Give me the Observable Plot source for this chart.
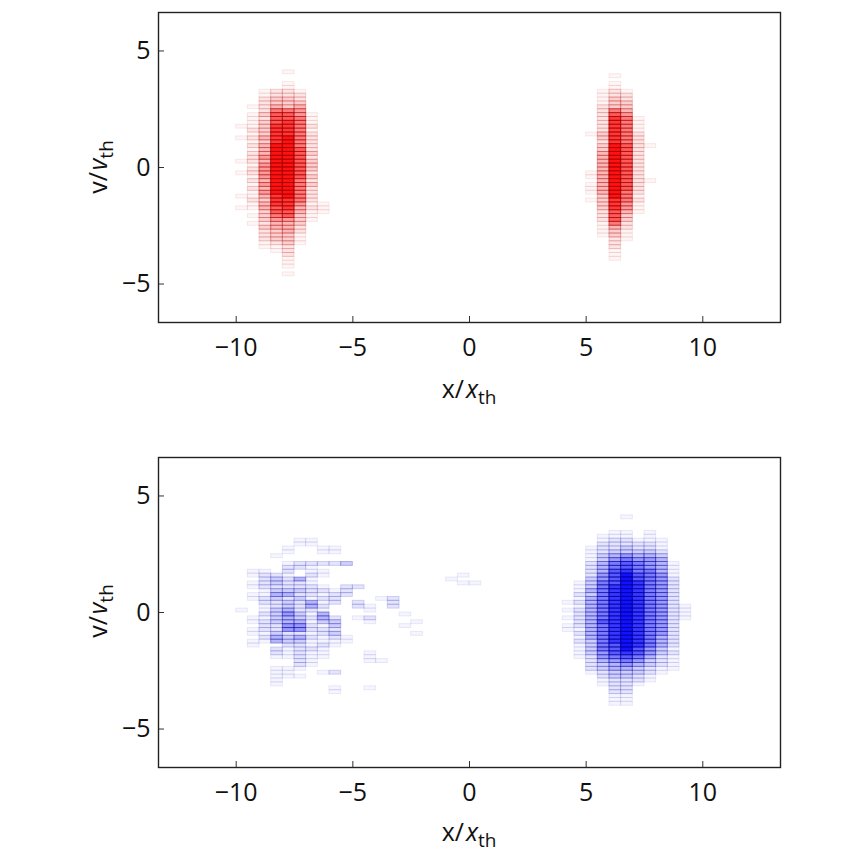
<!DOCTYPE html>
<html><head><meta charset="utf-8">
<script src="https://cdn.jsdelivr.net/npm/d3@7"></script>
<script src="https://cdn.jsdelivr.net/npm/@observablehq/plot@0.6"></script>
<style>
body{margin:0;background:#fff}
#c{width:862px;height:862px;overflow:hidden}
svg{display:block}
</style>
</head><body><div id="c"></div>
<script>
// axis ticks
const xTicks = [-10, -5, 0, 5, 10];
const vTicks = [-5, 0, 5];
const xDomain = [-13.33, 13.33];
const vDomain = [-6.65, 6.65];

// phase-space histogram bins: x bin width 0.5, v bin height 1/6,
// strings read top (v = 27/6) to bottom, one digit (0-9 relative count) per v-bin
const xBin = 0.5;
const vBin = 1 / 6;
const topRow = 27;

// top panel (red species)
const redX = [-10, -9.5, -9, -8.5, -8, -7.5, -7, -6.5, 5, 5.5, 6, 6.5, 7, 7.5];
const redCounts = [
  "00000 00000 00000 01001 00000 10010 00001 00100 00000 00000 00000",
  "00000 00000 01011 11212 12122 21221 21211 21101 01000 00000 00000",
  "00000 00112 22232 33334 34445 45555 45454 34433 32322 21100 00000",
  "00000 00223 34677 78888 89999 99999 99998 88776 54433 32110 00000",
  "00100 11223 33677 88889 99999 99999 99999 88877 54443 33222 11101",
  "00000 00122 34556 66666 66777 77777 66666 65443 33221 11000 00000",
  "00000 00000 00011 12122 22232 33323 23222 21211 10000 00000 00000",
  "00000 00000 00000 00000 00000 00000 00000 01110 00000 00000 00000",
  "00000 00000 00000 00010 00000 00011 01110 10000 00000 00000 00000",
  "00000 00111 12222 22233 23344 44444 44443 33322 21111 00000 00000",
  "00010 11223 33678 88888 89999 99999 99999 88877 76433 22211 10000",
  "00000 00122 33456 66666 67777 77777 77766 65543 32211 10000 00000",
  "00000 00000 00001 11122 22222 22222 22221 21110 00000 00000 00000",
  "00000 00000 00000 00000 01000 00000 10000 00000 00000 00000 00000"
];

// bottom panel (blue species)
const blueX = [-10, -9.5, -9, -8.5, -8, -7.5, -7, -6.5, -6, -5.5, -5, -4.5, -4, -3.5, -3, -2.5, -1, -0.5, 0,
               4, 4.5, 5, 5.5, 6, 6.5, 7, 7.5, 8, 8.5, 9];
const blueCounts = [
  "00000 00000 00000 00000 00000 01000 00000 00000 00000 00000 00000",
  "00000 00000 00000 01101 10110 00011 01101 10000 00000 00000 00000",
  "00000 00000 00000 01222 21122 11212 22121 00000 00000 00000 00000",
  "00000 00000 00100 00233 23432 23333 22344 02210 01111 10000 00000",
  "00000 00000 11001 22122 23423 34544 55233 21110 01110 00000 00000",
  "00000 00011 00002 20042 23232 22334 55243 22222 21010 00000 00000",
  "00000 00011 00002 11211 22214 42121 22121 12111 10000 00000 00000",
  "00000 00000 11002 01100 12121 21443 12211 21110 00100 00000 00000",
  "00000 00000 11002 00000 01222 00023 32321 10000 00200 01100 00000",
  "00000 00000 00003 00000 22200 00000 00011 00000 00000 00000 00000",
  "00000 00000 00000 00000 20002 20010 00000 00000 00000 00000 00000",
  "00000 00000 00000 00000 00000 11021 00000 00111 00000 01000 00000",
  "00000 00000 00000 00000 00010 00000 00000 00001 00000 00000 00000",
  "00000 00000 00000 00000 00022 20000 00000 00000 00000 00000 00000",
  "00000 00000 00000 00000 00000 00100 10000 00000 00000 00000 00000",
  "00000 00000 00000 00000 00000 00001 00100 00000 00000 00000 00000",
  "00000 00000 00000 00010 00000 00000 00000 00000 00000 00000 00000",
  "00000 00000 00000 00101 00000 00000 00000 00000 00000 00000 00000",
  "00000 00000 00000 00001 00000 00000 00000 00000 00000 00000 00000",
  "00000 00000 00000 00000 00001 01010 11000 00000 00000 00000 00000",
  "00000 00000 00000 00001 11212 12222 21212 11110 00000 00000 00000",
  "00000 00000 11112 22233 34344 44444 44443 33322 22100 00000 00000",
  "00000 00112 22334 44556 66666 66667 66666 66554 33221 10000 00000",
  "00000 01122 23456 67777 88888 88888 88888 77765 44332 22211 10000",
  "00100 01122 33567 78999 99999 99999 99999 99876 54332 22211 10000",
  "00000 00012 23456 66778 88888 88888 88888 87765 43322 10000 00000",
  "00000 01112 23455 56666 66666 66666 66666 65543 32211 00000 00000",
  "00000 00011 12344 44555 55555 55555 55544 43322 21100 00000 00000",
  "00000 00000 00001 11122 22222 22222 22222 21211 11000 00000 00000",
  "00000 00000 00000 00000 00000 11110 00000 00000 00000 00000 00000"
];

function toCells(xs, counts) {
  const cells = [];
  xs.forEach((x, j) => {
    const s = counts[j].replace(/ /g, "");
    for (let i = 0; i < s.length; i++) {
      const n = +s[i];
      if (n > 0) cells.push({x1: x, x2: x + xBin, v2: (topRow - i) * vBin, v1: (topRow - i - 1) * vBin, n});
    }
  });
  return cells;
}

const FONT = "'Open Sans', 'Noto Sans', sans-serif";

function panel(cells, fill, stroke, height, marginBottom) {
  return Plot.plot({
    width: 862,
    height,
    marginLeft: 158,
    marginRight: 82,
    marginTop: 12,
    marginBottom,
    style: {fontFamily: FONT, fontSize: "25px", color: "#111", background: "#fff"},
    x: {domain: xDomain, label: null},
    y: {domain: vDomain, label: null},
    opacity: {type: "identity"},
    marks: [
      Plot.rect(cells, {
        x1: "x1", x2: "x2", y1: "v1", y2: "v2",
        fill,
        fillOpacity: d => 0.93 * Math.pow(d.n / 9, 1.45),
        stroke,
        strokeOpacity: d => 0.03 + 0.82 * Math.pow(d.n / 9, 1.25),
        strokeWidth: 1
      }),
      Plot.axisX(xTicks, {tickSize: -6, tickPadding: 22, stroke: "#333", fill: "#111", fontSize: 25, label: null}),
      Plot.axisY(vTicks, {tickSize: -6, tickPadding: 14, stroke: "#333", fill: "#111", fontSize: 25, label: null}),
      Plot.frame({stroke: "#222", strokeWidth: 1.4})
    ]
  });
}

function addLabel(svg, x, y, rot, a) {
  const t = d3.select(svg).append("text")
    .attr("transform", `translate(${x},${y}) rotate(${rot})`)
    .attr("text-anchor", "middle")
    .attr("fill", "#111")
    .style("font-family", FONT)
    .style("font-size", "25px");
  t.append("tspan").text(a + "/");
  t.append("tspan").attr("dx", "2").attr("font-style", "italic").text(a);
  t.append("tspan").attr("dy", "0.3em").attr("font-size", "19px").text("th");
}

const root = document.getElementById("c");
const topPanel = panel(toCells(redX, redCounts), "#ff0000", "#a00000", 445, 123);
const bottomPanel = panel(toCells(blueX, blueCounts), "#0000ff", "#00009a", 417, 95);
addLabel(topPanel, 469, 398, 0, "x");
addLabel(topPanel, 107, 167, -90, "v");
addLabel(bottomPanel, 469, 396, 0, "x");
addLabel(bottomPanel, 107, 166, -90, "v");
root.appendChild(topPanel);
root.appendChild(bottomPanel);
</script>
</body></html>
